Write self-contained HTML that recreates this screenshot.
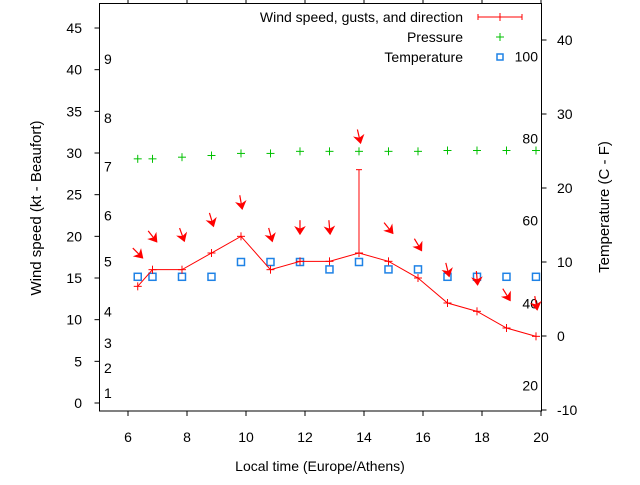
<!DOCTYPE html>
<html><head><meta charset="utf-8"><style>
html,body{margin:0;padding:0;background:#fff}
svg text{font-family:"Liberation Sans",sans-serif;font-size:14px;fill:#000}
</style></head><body>
<svg id="c" width="640" height="480" viewBox="0 0 640 480" xmlns="http://www.w3.org/2000/svg">
<rect width="640" height="480" fill="#fff"/>
<g id="axes"></g>
<g id="marks"></g>
<g id="legend">
<text x="463" y="22" text-anchor="end">Wind speed, gusts, and direction</text>
<g stroke="#ff0000" stroke-width="1"><line x1="478" y1="17" x2="522" y2="17"/><line x1="478" y1="14" x2="478" y2="20"/><line x1="522" y1="14" x2="522" y2="20"/><line x1="500" y1="13" x2="500" y2="21"/></g>
<text x="463" y="42" text-anchor="end">Pressure</text>
<g stroke="#00c000"><line x1="496" y1="37" x2="504" y2="37"/><line x1="500" y1="33" x2="500" y2="41"/></g>
<text x="463" y="62" text-anchor="end">Temperature</text>
<rect x="497" y="54" width="6" height="6" fill="none" stroke="#1e82e6" stroke-width="1.5"/>
</g>
</svg>
<script>
const times=[6.33,6.83,7.83,8.83,9.83,10.83,11.83,12.83,13.83,14.83,15.83,16.83,17.83,18.83,19.83];
const wind=[14,16,16,18,20,16,17,17,18,17,15,12,11,9,8];
const gust=[null,null,null,null,null,null,null,null,28,null,null,null,null,null,null];
const pressure=[29.3,29.3,29.5,29.7,29.95,29.95,30.2,30.2,30.2,30.2,30.2,30.3,30.3,30.3,30.3];
const temperature=[8,8,8,8,10,10,10,9,10,9,9,8,8,8,8];
const arrowLevel=[18,20,20.2,22,24.1,20.2,21.1,21.1,32,21,19,16,15,13,12];
const arrowAngle=[45,38,20,17,10,15,0,5,13,39,31,14,5,32,10];
const xTicks=[6,8,10,12,14,16,18,20];
const yTicks=[0,5,10,15,20,25,30,35,40,45];
const y2Ticks=[-10,0,10,20,30,40];
const beaufortLabels=["1","2","3","4","5","6","7","8","9"];
const beaufortY=[1.2,4.2,7.2,11,17,22.5,28.4,34.2,41.3];
const fahrLabels=["20","40","60","80","100"];
const fahrC=[-6.7,4.4,15.6,26.7,37.8];

const L=99.5,R=541.5,T=3.5,B=411;
const X=v=>128+(v-6)*29.5;
const Y=v=>403-v*8.333;
const Y2=v=>336-v*7.4;
const NS='http://www.w3.org/2000/svg';
function mk(p,t,a){const e=document.createElementNS(NS,t);for(const k in a)e.setAttribute(k,a[k]);p.appendChild(e);return e;}
const ax=document.getElementById('axes'),mg=document.getElementById('marks');
const frame=mk(ax,'rect',{x:L,y:T,width:R-L,height:B-T,fill:'none',stroke:'#000','stroke-width':1});


xTicks.forEach(v=>{
  const g=mk(ax,'g',{stroke:'#000'});
  
  
  mk(g,'line',{x1:X(v),x2:X(v),y1:B,y2:B+5});
  mk(g,'line',{x1:X(v),x2:X(v),y1:T,y2:T-4});
  const t=mk(ax,'text',{x:X(v),y:442,'text-anchor':'middle'});t.textContent=v;
  
  
});
yTicks.forEach(v=>{
  const l=mk(ax,'line',{x1:L-5,x2:L,y1:Y(v),y2:Y(v),stroke:'#000'});
  
  
  const t=mk(ax,'text',{x:82,y:Y(v)+5,'text-anchor':'end'});t.textContent=v;
  
  
});
y2Ticks.forEach(v=>{
  const l=mk(ax,'line',{x1:R,x2:R+5,y1:Y2(v),y2:Y2(v),stroke:'#000'});
  
  
  const t=mk(ax,'text',{x:557,y:Y2(v)+5});t.textContent=v;
  
  
});
beaufortLabels.forEach((s,i)=>{
  const t=mk(ax,'text',{x:104,y:Y(beaufortY[i])+5});t.textContent=s;
  
  
});
fahrLabels.forEach((s,i)=>{
  const t=mk(ax,'text',{x:538,y:Y2(fahrC[i])+5,'text-anchor':'end'});t.textContent=s;
  
  
});
let t=mk(ax,'text',{x:320,y:471,'text-anchor':'middle'});t.textContent='Local time (Europe/Athens)';


t=mk(ax,'text',{x:0,y:0,'text-anchor':'middle',style:'font-size:15px',transform:'translate(41,208) rotate(-90)'});t.textContent='Wind speed (kt - Beaufort)';


t=mk(ax,'text',{x:0,y:0,'text-anchor':'middle',style:'font-size:15px',transform:'translate(609,207) rotate(-90)'});t.textContent='Temperature (C - F)';



pressure.forEach((v,i)=>{
  const g=mk(mg,'g',{stroke:'#00c000'});
  
  
  const x=X(times[i]),y=Y(v);
  mk(g,'line',{x1:x-4,x2:x+4,y1:y,y2:y});mk(g,'line',{x1:x,x2:x,y1:y-4,y2:y+4});
});
temperature.forEach((v,i)=>{
  const r=mk(mg,'rect',{x:X(times[i])-3.5,y:Y2(v)-3.5,width:7,height:7,fill:'none',stroke:'#1e82e6','stroke-width':1.5});
  
  
});
const pl=mk(mg,'polyline',{points:wind.map((v,i)=>X(times[i])+','+Y(v)).join(' '),fill:'none',stroke:'#ff0000','stroke-width':1});


wind.forEach((v,i)=>{
  const g=mk(mg,'g',{stroke:'#ff0000'});
  
  
  const x=X(times[i]),y=Y(v);
  mk(g,'line',{x1:x-4,x2:x+4,y1:y,y2:y});mk(g,'line',{x1:x,x2:x,y1:y-4,y2:y+4});
  if(gust[i]!=null){
    mk(g,'line',{x1:x,x2:x,y1:y,y2:Y(gust[i])});
    mk(g,'line',{x1:x-3,x2:x+3,y1:Y(gust[i]),y2:Y(gust[i])});
  }
});
arrowAngle.forEach((a,i)=>{
  const r=a*Math.PI/180,dx=Math.sin(r),dy=Math.cos(r);
  const cx=X(times[i]),cy=Y(arrowLevel[i]),Lh=7;
  const x1=cx-dx*Lh,y1=cy-dy*Lh,x2=cx+dx*Lh,y2=cy+dy*Lh;
  const g=mk(mg,'g',{});
  
  
  mk(g,'line',{x1:x1,y1:y1,x2:x2,y2:y2,stroke:'#ff0000','stroke-width':1.2});
  const px=-dy,py=dx,hb=7;
  const bx=x2-dx*hb,by=y2-dy*hb;
  mk(g,'polygon',{points:`${x2},${y2} ${bx+px*4.5},${by+py*4.5} ${bx+dx*2},${by+dy*2} ${bx-px*4.5},${by-py*4.5}`,fill:'#ff0000',stroke:'#ff0000','stroke-width':1});
});
</script>
</body></html>
